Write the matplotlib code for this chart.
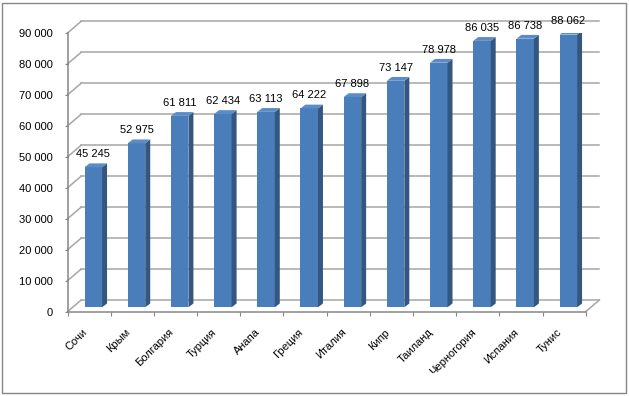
import matplotlib
matplotlib.use("Agg")
from matplotlib import pyplot as plt
from matplotlib.patches import Rectangle
from matplotlib.ticker import FuncFormatter

plt.rcParams['font.family'] = ['Liberation Sans', 'DejaVu Sans']

places = ['Сочи', 'Крым', 'Болгария', 'Турция', 'Анапа', 'Греция',
          'Италия', 'Кипр', 'Таиланд', 'Черногория', 'Испания', 'Тунис']
prices = [45245, 52975, 61811, 62434, 63113, 64222,
          67898, 73147, 78978, 86035, 86738, 88062]
levels = list(range(0, 90001, 10000))

W, H = 629, 396
fig = plt.figure(figsize=(W / 100, H / 100), dpi=100)

# front plane of the 3d box, in pixels
x0, x1 = 67.5, 585.7
y0, y1 = 311.7, 33.0
ax = fig.add_axes([x0 / W, (H - y0) / H, (x1 - x0) / W, (y0 - y1) / H])
ax.set_xlim(-0.5, len(places) - 0.5)
ax.set_ylim(0, 90000)

# pixel -> data helpers for the fake depth
px_x = (len(places)) / (x1 - x0)
px_y = 90000 / (y0 - y1)
dx, dy = 13.7 * px_x, 11.7 * px_y          # back wall offset
bx, by = 4.2 * px_x, 4.4 * px_y            # bar front offset
sx, sy = 5.0 * px_x, 3.8 * px_y            # bar side depth
bw = 17.5 * px_x

grid_c = '#a6a6a6'
axis_c = '#868686'
left, right = -0.5, len(places) - 0.5

# back wall + left wall gridlines
for v in levels:
    ax.plot([left + dx, right + dx], [v + dy, v + dy], color=grid_c, lw=1.1,
            clip_on=False, zorder=1)
    ax.plot([left, left + dx], [v, v + dy], color=grid_c, lw=1.1,
            clip_on=False, zorder=1)
ax.plot([right, right + dx], [0, dy], color=grid_c, lw=1.1, clip_on=False, zorder=1)

# bars
front_c, side_c, top_c = '#4a7ebb', '#34567f', '#5b8cc8'
xs = [i + bx for i in range(len(places))]
ax.bar(xs, prices, width=bw, bottom=by, color=front_c, zorder=3)
for x, v in zip(xs, prices):
    r = x + bw / 2
    l = x - bw / 2
    ax.fill([r, r + sx, r + sx, r], [by, by + sy, by + v + sy, by + v],
            color=side_c, lw=0, zorder=3)
    ax.fill([l, r, r + sx, l + sx], [by + v, by + v, by + v + sy, by + v + sy],
            color=top_c, lw=0, zorder=3)
    ax.annotate(f"{v:,}".replace(",", " "), (x, by + v), xytext=(0, 9.5),
                textcoords='offset points', ha='center', va='center',
                fontsize=8, zorder=4)

# axes
for s in ['top', 'right']:
    ax.spines[s].set_visible(False)
for s in ['left', 'bottom']:
    ax.spines[s].set_color(axis_c)
    ax.spines[s].set_linewidth(1.1)
ax.set_yticks(levels)
ax.yaxis.set_major_formatter(FuncFormatter(lambda v, p: f"{int(v):,}".replace(",", " ")))
ax.tick_params(axis='y', length=2.2, color=axis_c, pad=8.5, labelsize=8)
ax.set_xticks([i - 0.5 for i in range(len(places) + 1)])
ax.set_xticklabels([])
ax.tick_params(axis='x', which='major', length=3.2, color=axis_c)
ax.set_xticks(range(len(places)), places, minor=True, rotation=45, ha='right')
ax.tick_params(axis='x', which='minor', length=0, pad=11, labelsize=8)
ax.patch.set_visible(False)

fig.add_artist(Rectangle((2 / W, 3 / H), 624 / W, 390 / H, transform=fig.transFigure,
                         fill=False, ec=axis_c, lw=1))

fig.savefig('out.png', dpi=100)
